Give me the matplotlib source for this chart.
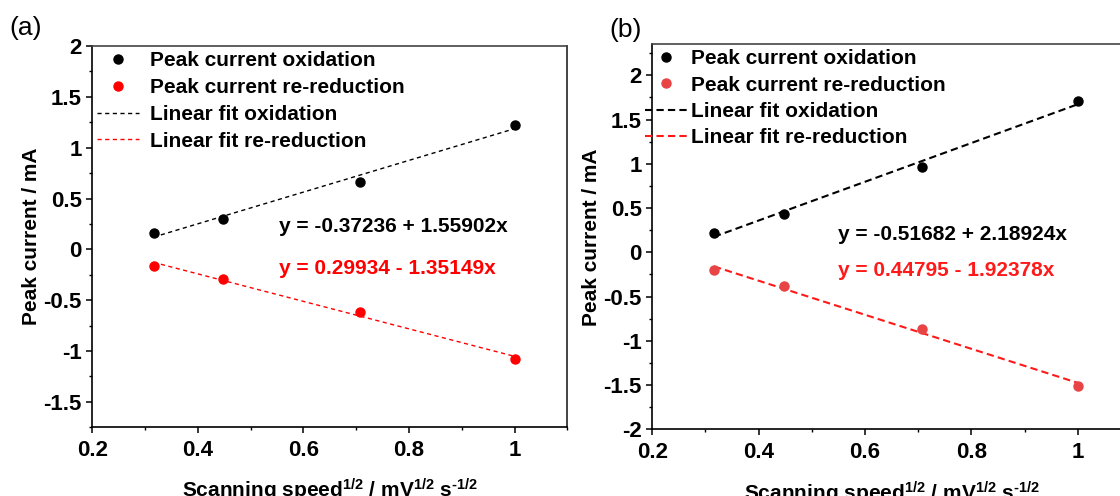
import matplotlib
matplotlib.use("Agg")
import matplotlib.pyplot as plt
import numpy as np
from matplotlib.lines import Line2D
from matplotlib.ticker import MultipleLocator, FormatStrFormatter

plt.rcParams["font.family"] = ["Liberation Sans", "DejaVu Sans"]
plt.rcParams["font.weight"] = "bold"
plt.rcParams["axes.unicode_minus"] = False
plt.rcParams["mathtext.fontset"] = "custom"
plt.rcParams["mathtext.bf"] = "Liberation Sans:bold"
plt.rcParams["mathtext.rm"] = "Liberation Sans:bold"
plt.rcParams["mathtext.default"] = "bf"

# square root of scan rate
speed = [0.316, 0.447, 0.707, 1.0]

# panel (a)
ox_a = [0.16, 0.30, 0.66, 1.22]
red_a = [-0.165, -0.296, -0.62, -1.08]
fit_ox_a = (-0.37236, 1.55902)
fit_red_a = (0.29934, -1.35149)
eq_ox_a = "y = -0.37236 + 1.55902x"
eq_red_a = "y = 0.29934 - 1.35149x"

# panel (b)
ox_b = [0.22, 0.43, 0.96, 1.71]
red_b = [-0.20, -0.38, -0.866, -1.51]
fit_ox_b = (-0.51682, 2.18924)
fit_red_b = (0.44795, -1.92378)
eq_ox_b = "y = -0.51682 + 2.18924x"
eq_red_b = "y = 0.44795 - 1.92378x"

legend_labels = ["Peak current oxidation", "Peak current re-reduction",
                 "Linear fit oxidation", "Linear fit re-reduction"]

xlabel = r"Scanning speed$^{1/2}$ / mV$^{1/2}$ s$^{\text{-}1/2}$"
ylabel = "Peak current / mA"

fig = plt.figure(figsize=(11.2, 4.96), dpi=100)
ax_a = fig.add_axes([0.0824, 0.1385, 0.4241, 0.7688])
ax_b = fig.add_axes([0.5824, 0.1345, 0.4274, 0.7762])


def style_axes(ax, ylim, yticks):
    ax.set_xlim(0.2, 1.1)
    ax.set_ylim(*ylim)
    ax.set_xticks([0.2, 0.4, 0.6, 0.8, 1.0])
    ax.xaxis.set_minor_locator(MultipleLocator(0.1))
    ax.set_yticks(yticks)
    ax.yaxis.set_minor_locator(MultipleLocator(0.25))
    ax.xaxis.set_major_formatter(FormatStrFormatter("%g"))
    ax.yaxis.set_major_formatter(FormatStrFormatter("%g"))
    ax.tick_params(which="major", length=4.5, width=1.1, labelsize=16)
    ax.tick_params(which="minor", length=2.5, width=1.0)
    ax.tick_params(axis="x", which="major", pad=5)
    ax.tick_params(axis="y", which="major", pad=3)
    for side in ["left", "bottom", "top", "right"]:
        ax.spines[side].set_linewidth(1.2)
    ax.spines["top"].set_color("#444444")
    ax.spines["right"].set_color("#222222")
    ax.set_xlabel(xlabel, fontsize=15, fontweight="bold")
    ax.set_ylabel(ylabel, fontsize=15, fontweight="bold")
    ax.xaxis.set_label_coords(0.5, -0.13)
    ax.yaxis.set_label_coords(-0.108, 0.5)


def draw_panel(ax, ox, red, fit_ox, fit_red, red_dot, red_line, lw, dash):
    xs = np.array([speed[0], speed[-1]])
    ax.plot(xs, fit_ox[0] + fit_ox[1] * xs, color="black", lw=lw,
            ls=(0, dash), zorder=2)
    ax.plot(xs, fit_red[0] + fit_red[1] * xs, color=red_line, lw=lw,
            ls=(0, dash), zorder=2)
    ax.plot(speed, ox, "o", color="black", ms=6.5, zorder=3)
    ax.plot(speed, red, "o", color=red_dot, ms=6.5, zorder=3)
    handles = [
        Line2D([], [], ls="none", marker="o", color="black", ms=6.5),
        Line2D([], [], ls="none", marker="o", color=red_dot, ms=6.5),
        Line2D([], [], color="black", lw=lw, ls=(0, dash)),
        Line2D([], [], color=red_line, lw=lw, ls=(0, dash)),
    ]
    return handles


# panel (a)
style_axes(ax_a, (-1.75, 2.0), np.arange(-1.5, 2.01, 0.5))
h_a = draw_panel(ax_a, ox_a, red_a, fit_ox_a, fit_red_a,
                 "#ff0000", "#ff0000", 1.0, (3, 2.5))
ax_a.legend(h_a, legend_labels, loc="upper left", bbox_to_anchor=(0.003, 0.995),
            frameon=False, fontsize=15, handlelength=2.0, handletextpad=0.55,
            labelspacing=0.38, borderaxespad=0.1, borderpad=0.05)
ax_a.text(0.554, 0.22, eq_ox_a, fontsize=15, fontweight="bold",
          color="black", va="center", ha="left")
ax_a.text(0.554, -0.19, eq_red_a, fontsize=15, fontweight="bold",
          color="#ff0000", va="center", ha="left")

# panel (b)
style_axes(ax_b, (-2.0, 2.35), np.arange(-2.0, 2.01, 0.5))
h_b = draw_panel(ax_b, ox_b, red_b, fit_ox_b, fit_red_b,
                 "#e84345", "#ff1a1a", 1.5, (3.5, 2))
ax_b.legend(h_b, legend_labels, loc="upper left", bbox_to_anchor=(-0.022, 0.995),
            frameon=False, fontsize=15, handlelength=2.0, handletextpad=0.2,
            labelspacing=0.35, borderaxespad=0.1, borderpad=0.05)
ax_b.text(0.549, 0.2, eq_ox_b, fontsize=15, fontweight="bold",
          color="black", va="center", ha="left")
ax_b.text(0.549, -0.21, eq_red_b, fontsize=15, fontweight="bold",
          color="#ff1a1a", va="center", ha="left")

fig.text(26 / 1120, 1 - 28 / 496, "(a)", fontsize=19, fontweight="normal",
         ha="center", va="center")
fig.text(626 / 1120, 1 - 30 / 496, "(b)", fontsize=19, fontweight="normal",
         ha="center", va="center")

fig.savefig("out.png", dpi=100)
